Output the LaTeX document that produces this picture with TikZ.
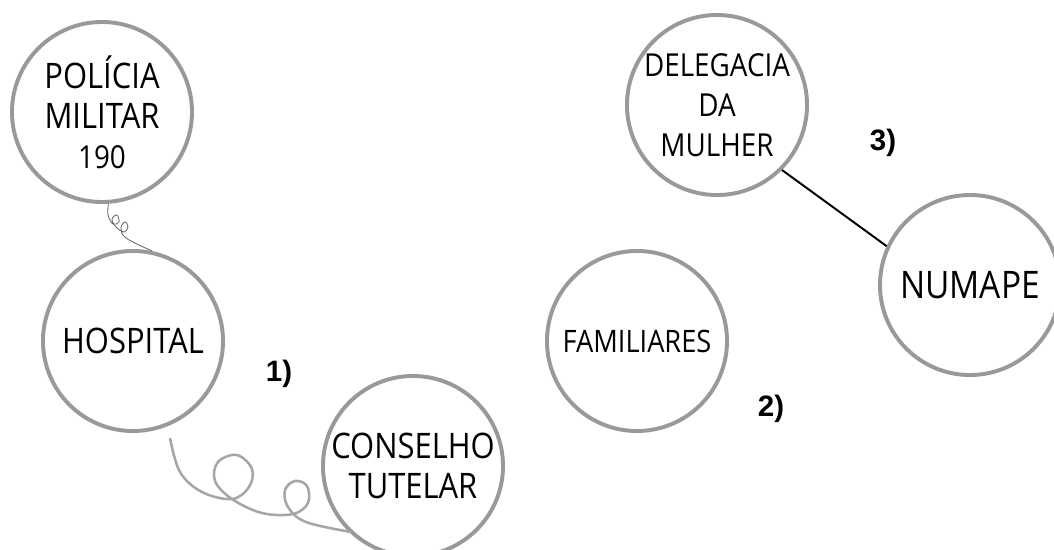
\documentclass[tikz,border=0pt]{standalone}
\usepackage{fontspec}
\setmainfont{Open Sans}[FakeStretch=0.88]
\newfontfamily\numfont{Liberation Sans}
\usetikzlibrary{calc}

\tikzset{
  orgao/.style={circle, draw=black!40, line width=2.8pt, minimum size=4.5cm,
    inner sep=0pt, align=center, font=\fontsize{22.5}{28.5}\selectfont},
  passo/.style={font=\numfont\bfseries\fontsize{21}{24}\selectfont},
  curl/.style={black!35, line width=1.8pt}
}

\begin{document}
\begin{tikzpicture}[x=0.025cm, y=-0.025cm]
  \useasboundingbox (0,0) rectangle (1054,549);

  \node [orgao] (pm)  at (102,112) {\fontsize{25}{31}\selectfont POLÍCIA\\
    \fontsize{25}{31}\selectfont MILITAR\\ \fontsize{22.5}{29}\selectfont 190};
  \node [orgao] (hos) at (133,341) {\fontsize{25}{28}\selectfont HOSPITAL};
  \node [orgao] (ct)  at (413,466) {\fontsize{25}{32}\selectfont CONSELHO\\
    \fontsize{25}{32}\selectfont TUTELAR};
  \node [orgao] (dm)  at (717,105) {DELEGACIA\\ DA\\ MULHER};
  \node [orgao] (fam) at (637,341) {\fontsize{22}{24}\selectfont FAMILIARES};
  \node [orgao] (num) at (970,285) {\fontsize{27}{30}\selectfont NUMAPE};

  \node [passo] (p1) at (279,374) {1)};
  \node [passo] (p2) at (771,409) {2)};
  \node [passo] (p3) at (883,143) {3)};

  % ligacoes
  \draw [black!60, line width=0.6pt] plot [smooth, tension=0.6] coordinates {
    (pm.-86) (108,215) (113,224) (119,222) (117,215) (112,219) (116,227)
    (124,232) (128,227) (125,222) (121,228) (126,238) (hos.78)};
  \draw [curl] plot [smooth, tension=0.6] coordinates {
    (170,438) (180,472) (202,492) (232,499) (249,487) (252,469) (237,455)
    (218,462) (215,481) (232,499) (262,513) (293,514) (308,503) (307,486)
    (295,481) (285,490) (288,507) (306,522) (351,532)};
  \draw [line width=1.4pt] (dm.-45) -- (num.155);
\end{tikzpicture}
\end{document}
